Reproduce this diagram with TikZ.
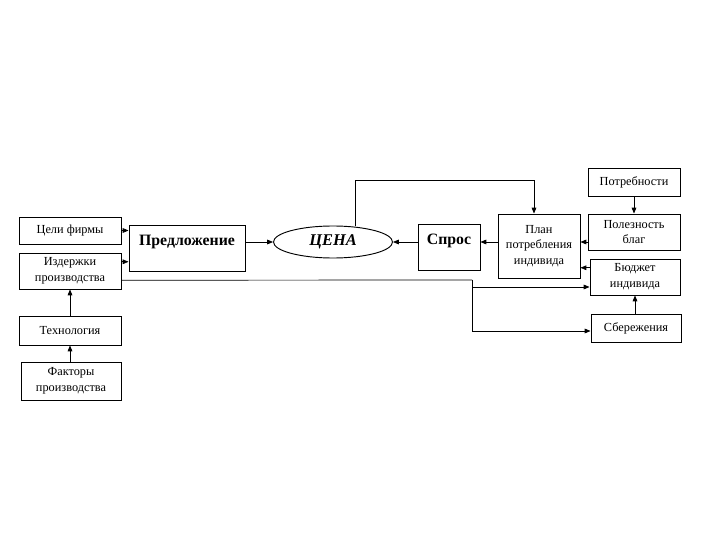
\documentclass[tikz,border=0pt]{standalone}
\usepackage{fontspec}
\setmainfont{Liberation Serif}
\usetikzlibrary{calc,shapes.geometric,arrows.meta}
\tikzset{
	block/.style={draw,thick,rectangle,align=center,inner sep=0pt,font=\fontsize{10.5}{13.5}\selectfont},%
	bigblock/.style={draw,thick,rectangle,inner sep=0pt,font=\fontsize{13.5}{15}\selectfont\bfseries,text height=0.63cm,text depth=0.75cm},%
	price/.style={draw,thick,ellipse,inner sep=0pt,font=\fontsize{14}{16}\selectfont\bfseries\itshape},%
	link/.style={-{Triangle[length=5pt,width=4pt]},semithick},%
	wire/.style={semithick},%
}
\begin{document}
\begin{tikzpicture}[%
		x=0.03cm,y=-0.03cm,%
		]
		\useasboundingbox (0,0) rectangle (720,540);
		% firm side
		\node[block,minimum width=3.06cm,minimum height=0.81cm] (celi) at (70,230.5) {Цели фирмы};
		\node[block,minimum width=3.06cm,minimum height=1.08cm] (izd) at (70,271) {Издержки\\производства};
		\node[block,minimum width=3.06cm,minimum height=0.87cm] (tech) at (70,330.5) {Технология};
		\node[block,minimum width=3.0cm,minimum height=1.14cm] (fact) at (71,381) {Факторы\\производства};
		\node[bigblock,minimum width=3.48cm] (pred) at (187,248) {Предложение};
		% price
		\node[price,minimum width=3.57cm,minimum height=0.96cm] (cena) at (333,242) {ЦЕНА};
		% consumer side
		\node[bigblock,minimum width=1.86cm] (spros) at (449,247) {Спрос};
		\node[block,minimum width=2.46cm,minimum height=1.92cm] (plan) at (539,246) {План\\потребления\\индивида};
		\node[block,minimum width=2.76cm,minimum height=0.84cm] (potr) at (634,182) {Потребности};
		\node[block,minimum width=2.76cm,minimum height=1.08cm] (pol) at (634,232) {Полезность\\благ};
		\node[block,minimum width=2.7cm,minimum height=1.08cm] (bud) at (635,277) {Бюджет\\индивида};
		\node[block,minimum width=2.7cm,minimum height=0.84cm] (sber) at (636,328) {Сбережения};
		% helper points
		\coordinate (izdtop) at ($(izd.north east)!0.25!(izd.south east)$);
		\coordinate (izdlow) at ($(izd.north east)!0.75!(izd.south east)$);
		\coordinate (split) at (472,280);
		\coordinate (budin) at (472,287);
		\coordinate (sberin) at (472,331);
		\coordinate (cenatop) at (355,180);
		\coordinate (plantop) at (534,180);
		\coordinate (budout) at ($(bud.north west)!0.25!(bud.south west)$);
		% connectors
		\draw[link] (celi.east) -- (celi.east -| pred.west);
		\draw[link] (izdtop) -- (izdtop -| pred.west);
		\draw[link] (tech.north) -- (izd.south);
		\draw[link] (fact.north -| tech.south) -- (tech.south);
		\draw[link] (pred.east |- cena.west) -- (cena.west);
		\draw[link] (spros.west |- cena.east) -- (cena.east);
		\draw[link] (plan.west |- cena.east) -- (cena.east -| spros.east);
		\draw[link] (pol.west |- cena.east) -- (cena.east -| plan.east);
		\draw[link] (budout) -- (budout -| plan.east);
		\draw[link] (potr.south) -- (pol.north);
		\draw[link] (sber.north -| bud.south) -- (bud.south);
		\draw[link] (cenatop |- cena.north) -- (cenatop) -- (plantop) -- (plantop |- plan.north);
		\draw[wire] (izdlow) -- (split);
		\draw[link] (split) -- (sberin) -- (sberin -| sber.west);
		\draw[link] (budin) -- (budin -| bud.west);
	\end{tikzpicture}
\end{document}
